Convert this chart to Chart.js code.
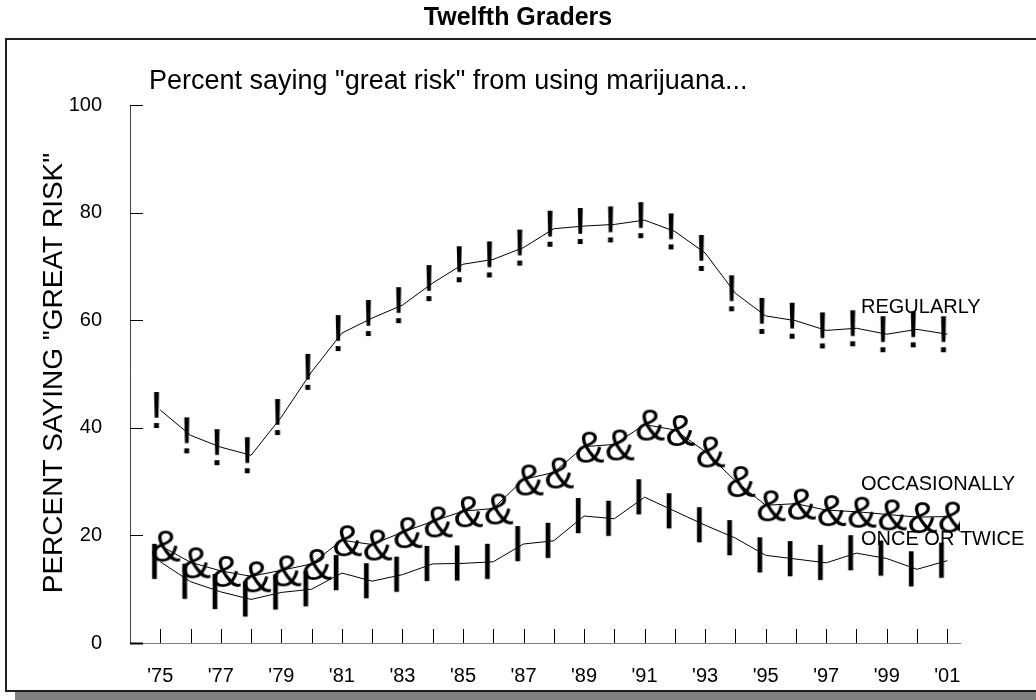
<!DOCTYPE html>
<html>
<head>
<meta charset="utf-8">
<script src="https://cdn.jsdelivr.net/npm/chart.js@4/dist/chart.umd.min.js"></script>
<style>
body { margin: 0; background: #fff; overflow: hidden; width: 1036px; height: 700px; }
#cadre { position: absolute; left: 5px; top: 38px; width: 1050px; height: 654px; box-sizing: border-box;
         border: 2px solid #1e1e1e; box-shadow: 10px 9px 0 #808080; background: #fff; }
#graphique { position: absolute; left: 0; top: 0; }
</style>
</head>
<body>
<div id="cadre"></div>
<canvas id="graphique" width="1036" height="700"></canvas>
<script>
// Données : pourcentage disant "grand risque" (élèves de terminale)
const annees = [1975, 1976, 1977, 1978, 1979, 1980, 1981, 1982, 1983, 1984, 1985, 1986, 1987, 1988,
                1989, 1990, 1991, 1992, 1993, 1994, 1995, 1996, 1997, 1998, 1999, 2000, 2001];
const regulierement = [43.3, 38.6, 36.4, 34.9, 42.0, 50.4, 57.6, 60.4, 62.8, 66.9, 70.4, 71.3, 73.5, 77.0,
                       77.5, 77.8, 78.6, 76.5, 72.5, 65.0, 60.8, 59.9, 58.1, 58.5, 57.4, 58.3, 57.4];
const occasionnellement = [18.1, 15.0, 13.4, 12.4, 13.5, 14.7, 19.1, 18.3, 20.6, 22.6, 24.5, 25.0, 30.4, 31.7,
                           36.5, 36.9, 40.6, 39.6, 35.6, 30.1, 25.6, 25.9, 24.7, 24.4, 23.9, 23.4, 23.5];
const uneOuDeuxFois = [15.1, 11.4, 9.5, 8.1, 9.4, 10.0, 13.0, 11.5, 12.7, 14.7, 14.8, 15.1, 18.4, 19.0,
                       23.6, 23.1, 27.1, 24.5, 21.9, 19.5, 16.3, 15.6, 14.9, 16.7, 15.7, 13.7, 15.3];
const anneesEtiquetees = [1975, 1977, 1979, 1981, 1983, 1985, 1987, 1989, 1991, 1993, 1995, 1997, 1999, 2001];
const etiquettesX = ["'75", "'77", "'79", "'81", "'83", "'85", "'87", "'89", "'91", "'93", "'95", "'97", "'99", "'01"];
const graduationsY = [0, 20, 40, 60, 80, 100];
const nomsSeries = ["REGULARLY", "OCCASIONALLY", "ONCE OR TWICE"];

const POLICE = '"Liberation Sans", Arial, sans-serif';

// Symbole texte utilisé comme marqueur de point
function creerSymbole(car, police, decalage) {
    const c = document.createElement('canvas');
    c.width = 60;
    c.height = 60;
    const ctx = c.getContext('2d');
    ctx.font = police;
    ctx.fillStyle = '#000';
    const m = ctx.measureText(car);
    const larg = m.actualBoundingBoxLeft + m.actualBoundingBoxRight;
    const haut = m.actualBoundingBoxAscent + m.actualBoundingBoxDescent;
    ctx.fillText(car, 30 + decalage - larg / 2 + m.actualBoundingBoxLeft, 30 - haut / 2 + m.actualBoundingBoxAscent);
    return c;
}

const symboleRegulier = creerSymbole('!', '52px ' + POLICE, -4);
const symboleOccasion = creerSymbole('&', '45px ' + POLICE, 6);
const symboleUneFois = creerSymbole('|', 'bold 37px ' + POLICE, -6);

function serie(nom, valeurs, symbole) {
    return {
        label: nom,
        data: annees.map((a, i) => ({ x: a, y: valeurs[i] })),
        borderColor: '#000',
        borderWidth: 1,
        pointStyle: symbole,
        pointRadius: 1,
        tension: 0,
        fill: false
    };
}

// Textes, graduations internes et libellés des séries
const decor = {
    id: 'decor',
    afterDraw(chart) {
        const ctx = chart.ctx;
        const x = chart.scales.x;
        const y = chart.scales.y;
        ctx.save();
        ctx.strokeStyle = '#000';
        ctx.lineWidth = 1;
        for (const a of annees) {
            const px = Math.round(x.getPixelForValue(a)) + 0.5;
            ctx.beginPath();
            ctx.moveTo(px, y.bottom);
            ctx.lineTo(px, y.bottom - 14);
            ctx.stroke();
        }
        for (const v of graduationsY) {
            const py = Math.round(y.getPixelForValue(v)) + 0.5;
            ctx.lineWidth = v === 0 ? 2 : 1;
            ctx.beginPath();
            ctx.moveTo(x.left, py);
            ctx.lineTo(x.left + 13, py);
            ctx.stroke();
        }

        ctx.fillStyle = '#000';
        ctx.textAlign = 'center';
        ctx.textBaseline = 'alphabetic';
        ctx.font = 'bold 25px ' + POLICE;
        ctx.fillText('Twelfth Graders', 518, 25);

        ctx.textAlign = 'left';
        ctx.font = '27px ' + POLICE;
        ctx.fillText('Percent saying "great risk" from using marijuana...', 149, 89);

        ctx.font = '20px ' + POLICE;
        ctx.fillText(nomsSeries[0], 861, 313);
        ctx.fillText(nomsSeries[1], 861, 490);
        ctx.fillText(nomsSeries[2], 861, 545);

        ctx.translate(62, 373);
        ctx.rotate(-Math.PI / 2);
        ctx.textAlign = 'center';
        ctx.font = '28px ' + POLICE;
        ctx.fillText('PERCENT SAYING "GREAT RISK"', 0, 0);
        ctx.restore();
    }
};

new Chart(document.querySelector('#graphique'), {
    type: 'line',
    data: {
        datasets: [
            serie(nomsSeries[0], regulierement, symboleRegulier),
            serie(nomsSeries[1], occasionnellement, symboleOccasion),
            serie(nomsSeries[2], uneOuDeuxFois, symboleUneFois)
        ]
    },
    options: {
        responsive: false,
        animation: false,
        devicePixelRatio: 1,
        layout: { padding: { left: 0, top: 105, right: 76, bottom: 0 } },
        plugins: {
            legend: { display: false },
            tooltip: { enabled: false },
            title: { display: false }
        },
        scales: {
            x: {
                type: 'linear',
                min: 1974,
                max: 2001.42,
                grid: { display: false },
                border: { display: true, color: '#808080', width: 1 },
                ticks: {
                    stepSize: 1,
                    includeBounds: false,
                    autoSkip: false,
                    maxRotation: 0,
                    padding: 13,
                    color: '#000',
                    font: { family: POLICE, size: 20 },
                    callback: function (v) {
                        const i = anneesEtiquetees.indexOf(v);
                        return i >= 0 ? etiquettesX[i] : '';
                    }
                },
                afterFit: function (scale) { scale.height = 57; }
            },
            y: {
                min: 0,
                max: 100,
                grid: { display: false },
                border: { display: true, color: '#444', width: 1 },
                ticks: {
                    stepSize: 20,
                    padding: 20,
                    color: '#000',
                    font: { family: POLICE, size: 20 }
                },
                afterFit: function (scale) { scale.width = 130; }
            }
        }
    },
    plugins: [decor]
});
</script>
</body>
</html>
